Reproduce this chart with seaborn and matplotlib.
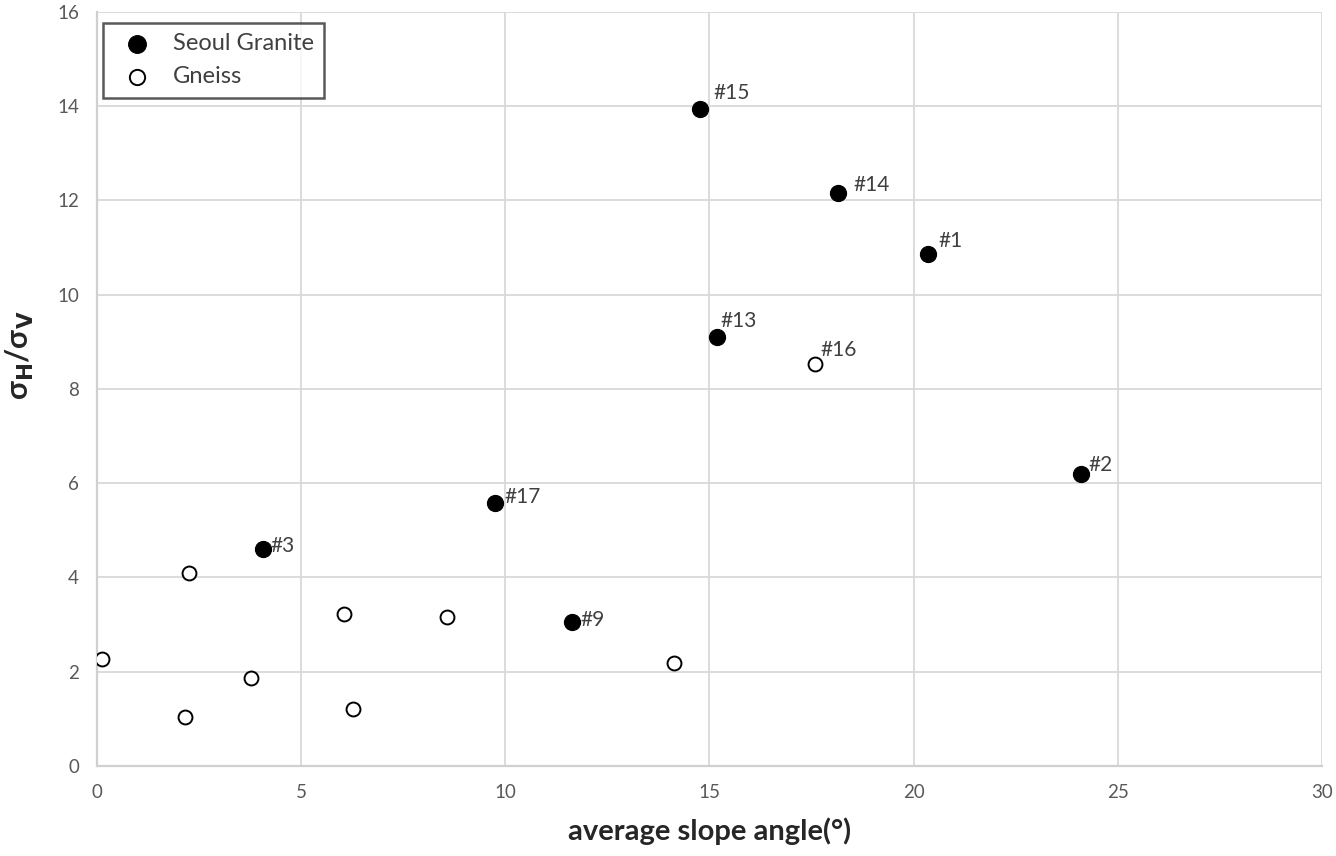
import matplotlib
matplotlib.use('Agg')
import matplotlib.pyplot as plt
import pandas as pd
import seaborn as sns

# Seoul Granite sites (filled markers)
granite_ids = ['#15', '#14', '#1', '#13', '#2', '#17', '#3', '#9']
granite_slope = [14.76, 18.15, 20.34, 15.18, 24.09, 9.74, 4.06, 11.63]
granite_ratio = [13.94, 12.16, 10.87, 9.10, 6.19, 5.58, 4.60, 3.05]

# Gneiss sites (open markers); only #16 is labelled
gneiss_ids = ['#16', '', '', '', '', '', '', '', '']
gneiss_slope = [17.58, 2.25, 0.12, 3.77, 2.15, 6.05, 6.28, 8.56, 14.13]
gneiss_ratio = [8.52, 4.10, 2.27, 1.86, 1.03, 3.23, 1.20, 3.16, 2.19]

# label offsets in pixels (dx, dy) relative to the marker
label_offsets = {
    '#15': (14, 16), '#14': (15, 8), '#1': (11, 13), '#13': (4, 16),
    '#2': (8, 9), '#17': (10, 6), '#3': (8, 3), '#9': (9, 2), '#16': (6, 14),
}

granite = pd.DataFrame({'id': granite_ids, 'slope': granite_slope, 'ratio': granite_ratio})
gneiss = pd.DataFrame({'id': gneiss_ids, 'slope': gneiss_slope, 'ratio': gneiss_ratio})

sns.set_style('white')
plt.rcParams['font.family'] = ['Lato', 'DejaVu Sans']

fig = plt.figure(figsize=(13.36, 8.56), dpi=100)
ax = fig.add_axes([0.0726, 0.1054, 0.9169, 0.8806])

sns.scatterplot(data=granite, x='slope', y='ratio', ax=ax, color='black',
                edgecolor='black', s=135, linewidth=0.8, label='Seoul Granite', zorder=3)
sns.scatterplot(data=gneiss, x='slope', y='ratio', ax=ax, color='white',
                edgecolor='black', s=100, linewidth=1.4, label='Gneiss', zorder=3)

for df in (granite, gneiss):
    for _, row in df.iterrows():
        if not row['id']:
            continue
        dx, dy = label_offsets[row['id']]
        ax.annotate(row['id'], (row['slope'], row['ratio']), xytext=(dx, dy),
                    textcoords='offset pixels', ha='left', va='center',
                    fontsize=15, color='#404040')

ax.set_xlim(0, 30)
ax.set_ylim(0, 16)
ax.set_xticks(range(0, 31, 5))
ax.set_yticks(range(0, 17, 2))
ax.grid(True, color='#d9d9d9', linewidth=1.3)
ax.set_axisbelow(True)
for side in ('top', 'right'):
    ax.spines[side].set_visible(False)
for side in ('left', 'bottom'):
    ax.spines[side].set_color('#d0d0d0')
    ax.spines[side].set_linewidth(1.6)
ax.tick_params(axis='both', length=0, labelsize=13.5, colors='#595959', pad=13)

ax.set_xlabel('average slope angle(°)', fontsize=21, fontweight='bold',
              color='#262626', labelpad=12)
ax.set_ylabel(r'σ$_\mathbf{H}$/σ$_\mathbf{V}$', fontsize=22, fontweight='bold',
              color='#262626')
ax.yaxis.set_label_coords(-0.05, 0.545)

leg = ax.legend(loc='upper left', bbox_to_anchor=(0.005, 0.986), fontsize=17,
                frameon=True, fancybox=False, borderpad=0.45, handletextpad=0.5,
                labelspacing=0.5, markerscale=1.1, borderaxespad=0.0)
leg.get_frame().set_edgecolor('#303030')
leg.get_frame().set_linewidth(1.8)
for t in leg.get_texts():
    t.set_color('#404040')

fig.savefig('out.png', dpi=100)
